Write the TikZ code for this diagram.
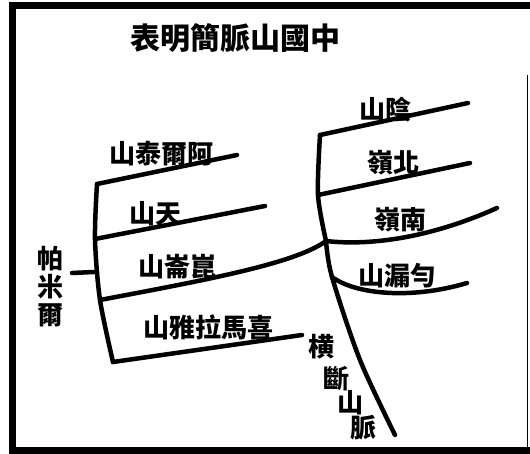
\documentclass[tikz,border=0pt]{standalone}
\usepackage{fontspec}
\newfontfamily\cjk{Noto Sans CJK TC}
\begin{document}
\begin{tikzpicture}[x=1pt,y=-1pt,
  ridge/.style={line width=4.5pt, line cap=round, line join=round},
  frame/.style={line width=7pt},
  lbl/.style={font=\cjk\bfseries\fontsize{26}{28}\selectfont, inner sep=0pt, align=center},
  ttl/.style={font=\cjk\bfseries\fontsize{30}{30}\selectfont, inner sep=0pt}]
\useasboundingbox (0,0) rectangle (530,454);
\fill[white] (0,0) rectangle (530,454);
% frame
\draw[frame] (12,450) -- (12,6) -- (530,6);
\draw[frame] (9,450) -- (530,450);
\draw[line width=0.8pt] (527,75) -- (527,450);

% title
\node[ttl] (title) at (235,38) {表明簡脈山國中};

% west group coordinates
\coordinate (wTop) at (97,184);
\coordinate (wTian) at (95,239);
\coordinate (wMid) at (94,272);
\coordinate (wKun) at (100,300);
\coordinate (wBot) at (113,362);
\coordinate (pEnd) at (72,273);
\coordinate (aEnd) at (237,155);
\coordinate (tEnd) at (265,206);
\coordinate (hEnd) at (302,335);
% east group coordinates
\coordinate (J) at (326,241);
\coordinate (eTop) at (320,135);
\coordinate (eBei) at (318,195);
\coordinate (eLou) at (332,277);
\coordinate (eMid) at (360,360);
\coordinate (eEnd) at (395,435);
\coordinate (yEnd) at (468,103);
\coordinate (bEnd) at (470,163);
\coordinate (nEnd) at (497,208);
\coordinate (lEnd) at (467,283);

% west trunk and branches
\draw[ridge] plot[smooth] coordinates {(wTop) (wTian) (wKun) (wBot)};
\draw[ridge] (pEnd) -- (wMid);
\draw[ridge] (wTop) -- (aEnd);
\draw[ridge] (wTian) -- (tEnd);
\draw[ridge] (wKun) .. controls (200,281) and (295,264) .. (J);
\draw[ridge] (wBot) -- (hEnd);

% east trunk and branches
\draw[ridge] plot[smooth] coordinates {(eTop) (eBei) (J)};
\draw[ridge] plot[smooth] coordinates {(J) (eLou) (eMid) (eEnd)};
\draw[ridge] (eTop) -- (yEnd);
\draw[ridge] (eBei) -- (bEnd);
\draw[ridge] (J) .. controls (370,246) and (430,238) .. (nEnd);
\draw[ridge] (eLou) .. controls (355,294) and (410,300) .. (lEnd);

% labels
\node[lbl] (altai) at (161,154) {山泰爾阿};
\node[lbl] (tian) at (155,214) {山天};
\node[lbl] (kunlun) at (177,267) {山崙崑};
\node[lbl] (himal) at (208,327) {山雅拉馬喜};
\node[lbl] (pamir) at (50,287) {帕\\米\\爾};
\node[lbl] (yin) at (385,110) {山陰};
\node[lbl] (bei) at (393,163) {嶺北};
\node[lbl] (nan) at (400,220) {嶺南};
\node[lbl] (lou) at (397,276) {山漏勻};
\node[lbl] (heng) at (321,347) {横};
\node[lbl] (duan) at (336,379) {斷};
\node[lbl] (shan) at (350,403) {山};
\node[lbl] (mai) at (363,428) {脈};
\end{tikzpicture}
\end{document}
